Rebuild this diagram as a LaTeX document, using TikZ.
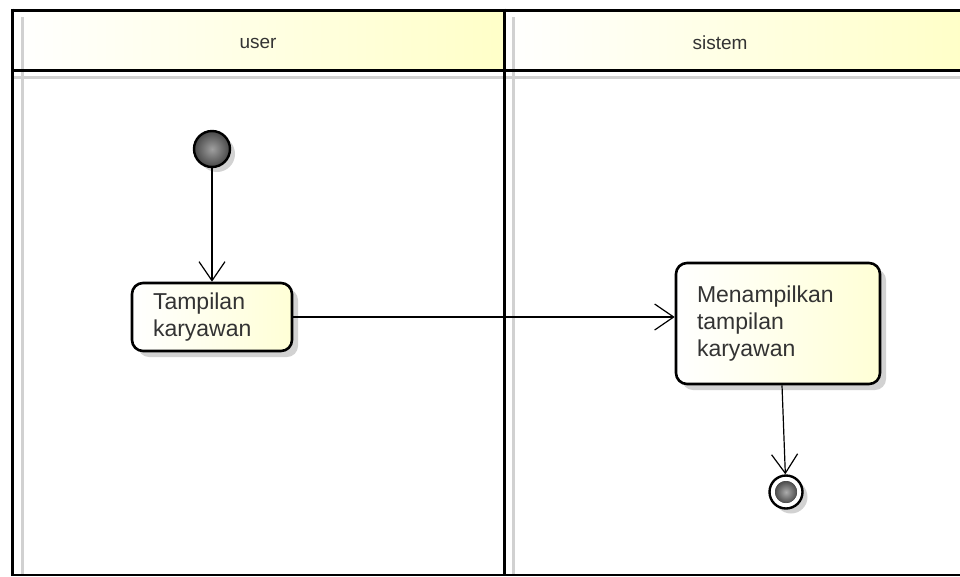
\documentclass[tikz,border=0pt]{standalone}
\usepackage{fontspec}
\setmainfont{Liberation Sans}
\usetikzlibrary{arrows.meta,shadows}
\definecolor{txt}{HTML}{333333}
\definecolor{paleY}{HTML}{FFFFC8}
\definecolor{boxY}{HTML}{FFFFD6}
\tikzset{
  lane/.style={line width=3pt, black},
  laneshadow/.style={line width=3pt, black!18},
  action/.style={draw=black, line width=2.6pt, rounded corners=11pt,
    left color=white, right color=boxY, align=left, text=txt,
    inner xsep=21pt, font=\fontsize{23}{27}\selectfont,
    drop shadow={shadow xshift=6pt, shadow yshift=-6pt, fill=black!25, opacity=0.7}},
  initnode/.style={circle, draw=black, line width=2.4pt, minimum size=36pt, inner sep=0pt,
    inner color=gray!75, outer color=black!72,
    drop shadow={shadow xshift=5pt, shadow yshift=-5pt, fill=black!25, opacity=0.7}},
  finalnode/.style={circle, draw=black, line width=2.4pt, minimum size=33pt, inner sep=0pt, fill=white,
    drop shadow={shadow xshift=5pt, shadow yshift=-5pt, fill=black!25, opacity=0.7}},
  flow/.style={draw=black, line width=1.2pt, -{Straight Barb[length=19pt,width=26pt,line width=1.2pt]}},
  hdr/.style={text=txt, font=\fontsize{19}{22}\selectfont}
}
\begin{document}
\begin{tikzpicture}[x=1pt,y=-1pt]
\useasboundingbox (0,0) rectangle (960,576);
% header fills
\shade[left color=white, right color=paleY] (12,10) rectangle (504,70);
\shade[left color=white, right color=paleY] (504,10) rectangle (962,70);
% lane shadows
\draw[laneshadow] (22,17) -- (22,574);
\draw[laneshadow] (513,17) -- (513,574);
\draw[laneshadow] (14,77) -- (962,77);
% lane lines
\draw[lane] (12,10) -- (962,10);
\draw[lane] (12,70) -- (962,70);
\draw[lane] (12,8.5) -- (12,576);
\draw[lane] (504,8.5) -- (504,576);
\draw[line width=2pt] (12,575) -- (962,575);
% headers
\node[hdr] (huser) at (258,43) {user};
\node[hdr] (hsis) at (720,43) {sistem};
% nodes
\node[initnode] (start) at (212,149) {};
\node[action, text width=118pt, minimum height=68pt] (a1) at (212,317) {Tampilan\\karyawan};
\node[action, text width=162pt, minimum height=121pt] (a2) at (778,323.5) {Menampilkan\\tampilan\\karyawan};
\node[finalnode] (end) at (786,492) {};
\fill[inner color=gray!65, outer color=black!70] (end) circle (11pt);
% flows
\draw[flow] (start) -- (a1);
\draw[flow] (a1.east) -- (a1.east -| a2.west);
\draw[flow] ([xshift=4pt]a2.south) -- (end);
\end{tikzpicture}
\end{document}
